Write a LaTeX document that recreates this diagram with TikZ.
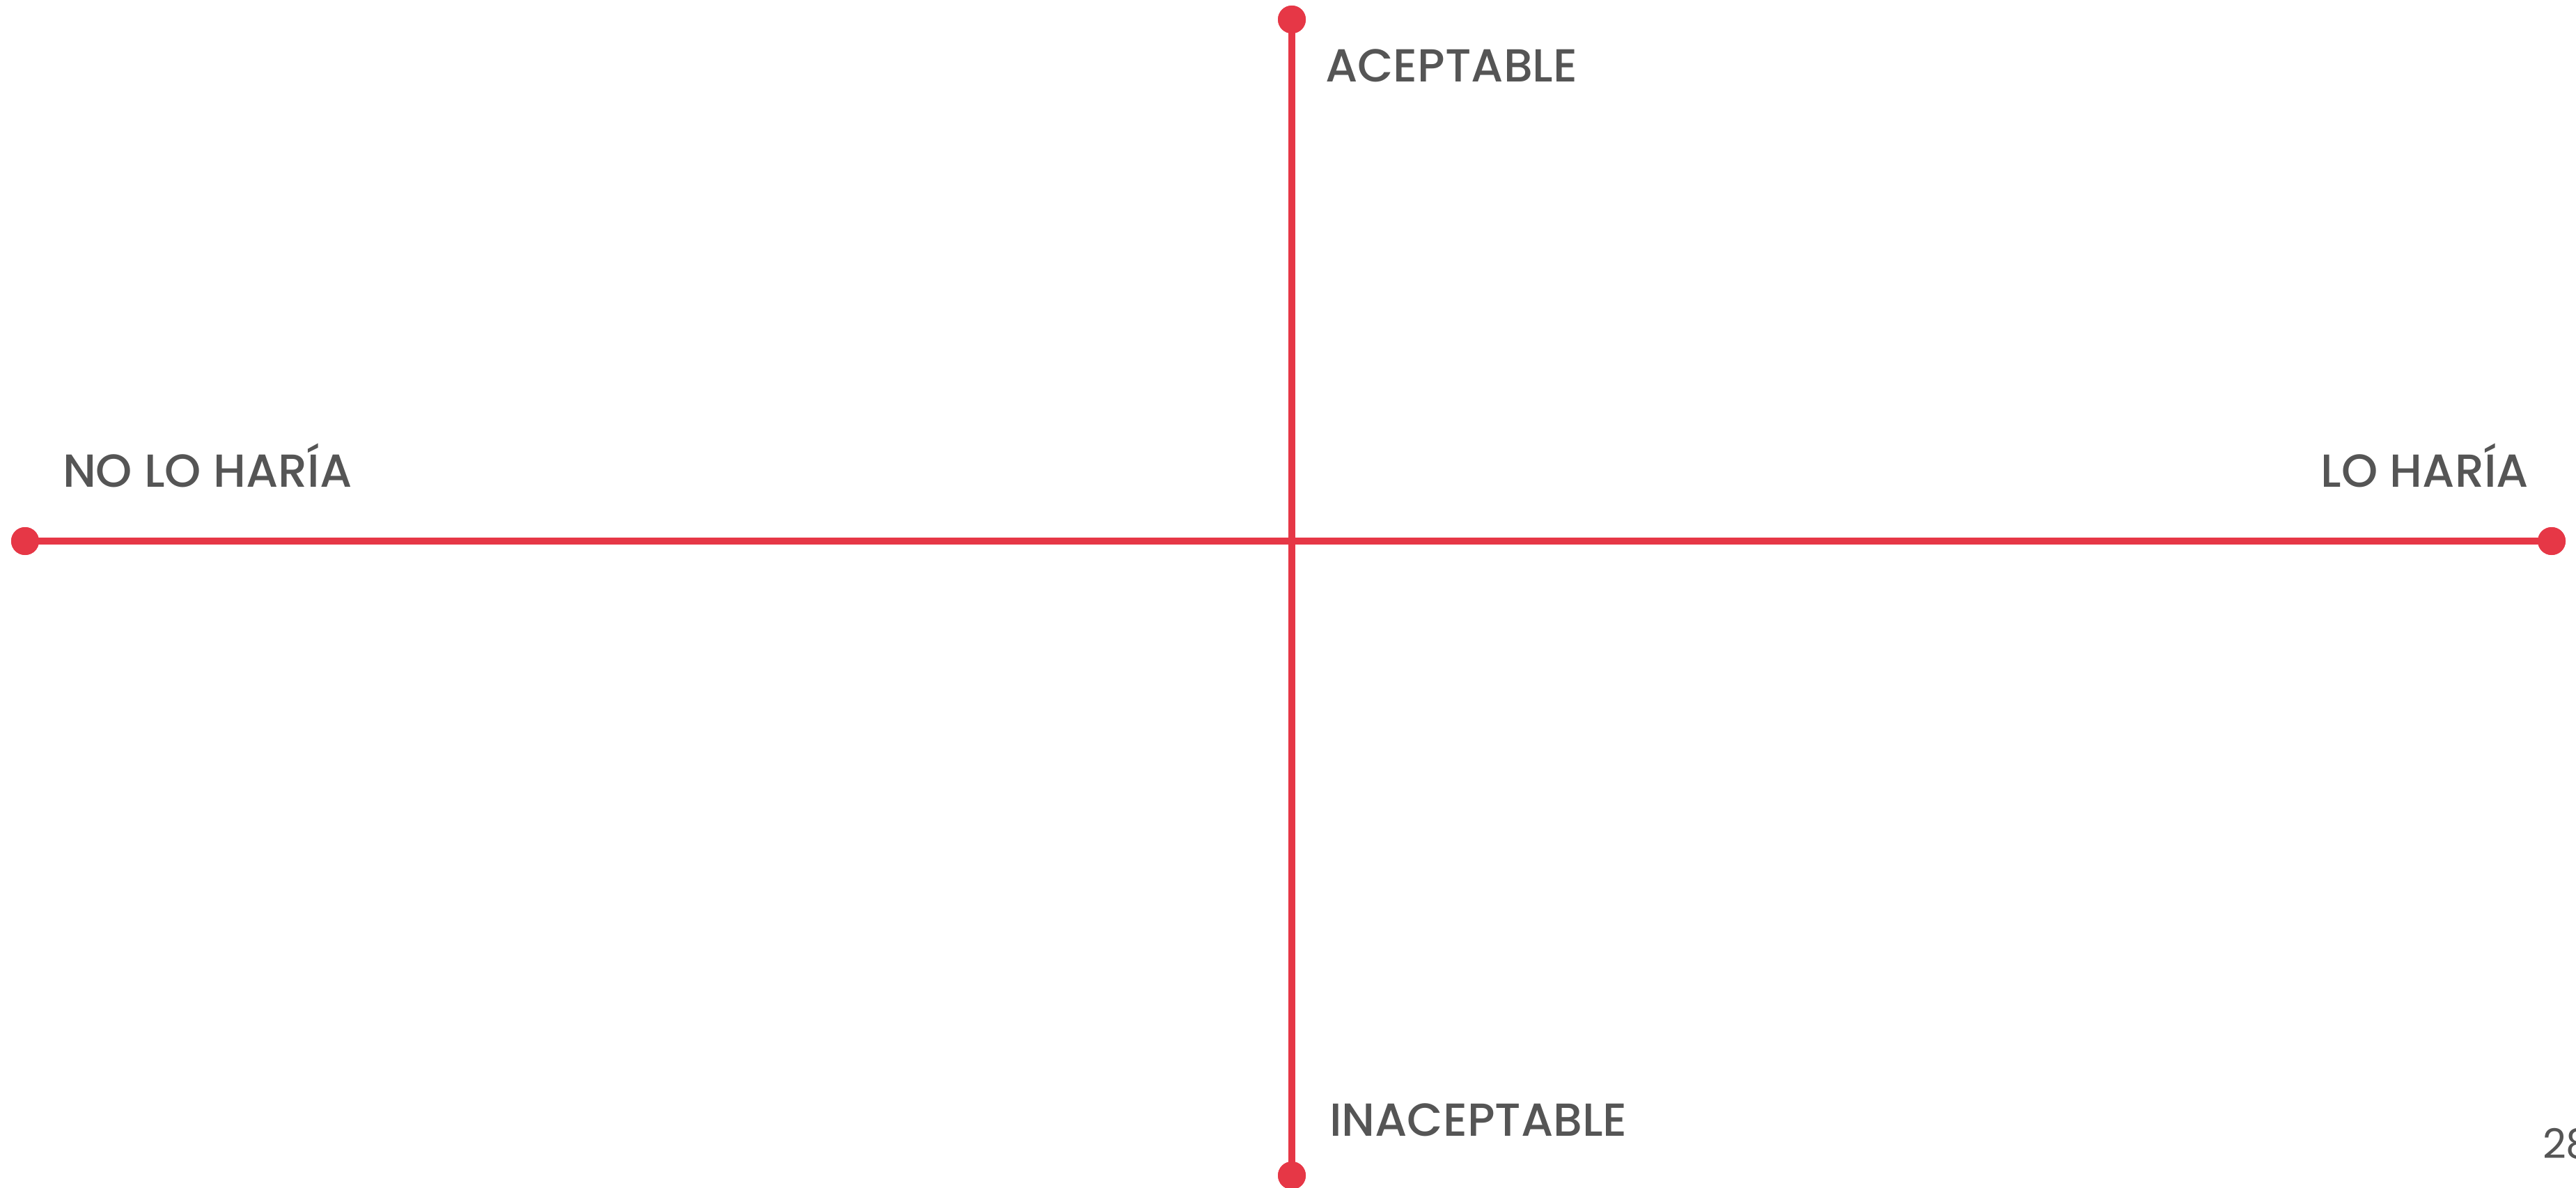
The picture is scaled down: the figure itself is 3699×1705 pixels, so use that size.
\documentclass[tikz,border=0pt]{standalone}
\usepackage{fontspec}
\setmainfont{Poppins}
\newfontfamily\labelfont{Poppins}[UprightFont=* Medium]
\usepackage{tikz}
\usetikzlibrary{positioning}

\definecolor{axisred}{RGB}{230,55,70}
\definecolor{labelgray}{RGB}{85,85,85}

\begin{document}
\begin{tikzpicture}[
        x=0.2pt, y=-0.2pt,
        axis/.style={line width=2pt, draw=axisred},
        enddot/.style={circle, fill=axisred, minimum size=8pt, inner sep=0pt},
        axislabel/.style={inner sep=0pt, text=labelgray, font=\labelfont\fontsize{13.3}{16}\selectfont},
        pagenum/.style={inner sep=0pt, text=labelgray, font=\fontsize{11.75}{14}\selectfont}
    ]
        \useasboundingbox (0,0) rectangle (3699,1705);

        % --- End points ---
        \node (acc) [enddot] at (1855,28) {};
        \node (inacc) [enddot] at (1855,1688) {};
        \node (nolo) [enddot] at (36,777) {};
        \node (lo) [enddot] at (3664,777) {};

        % --- Axes ---
        \draw [axis] (nolo.center) -- (lo.center);
        \draw [axis] (acc.center) -- (inacc.center);

        % redraw dots on top
        \node [enddot] at (acc) {};
        \node [enddot] at (inacc) {};
        \node [enddot] at (nolo) {};
        \node [enddot] at (lo) {};

        % --- Labels ---
        \node (acclabel) [axislabel, anchor=base west] at (1902,118) {ACEPTABLE};
        \node (inacclabel) [axislabel, anchor=base west] at (1908,1631) {INACEPTABLE};
        \node (nololabel) [axislabel, anchor=base west] at (89,699) {NO LO HARÍA};
        \node (lolabel) [axislabel, anchor=base east] at (3632,699) {LO HARÍA};

        % --- Page number ---
        \node (page) [pagenum, anchor=base west] at (3650,1663) {28};
\end{tikzpicture}
\end{document}
